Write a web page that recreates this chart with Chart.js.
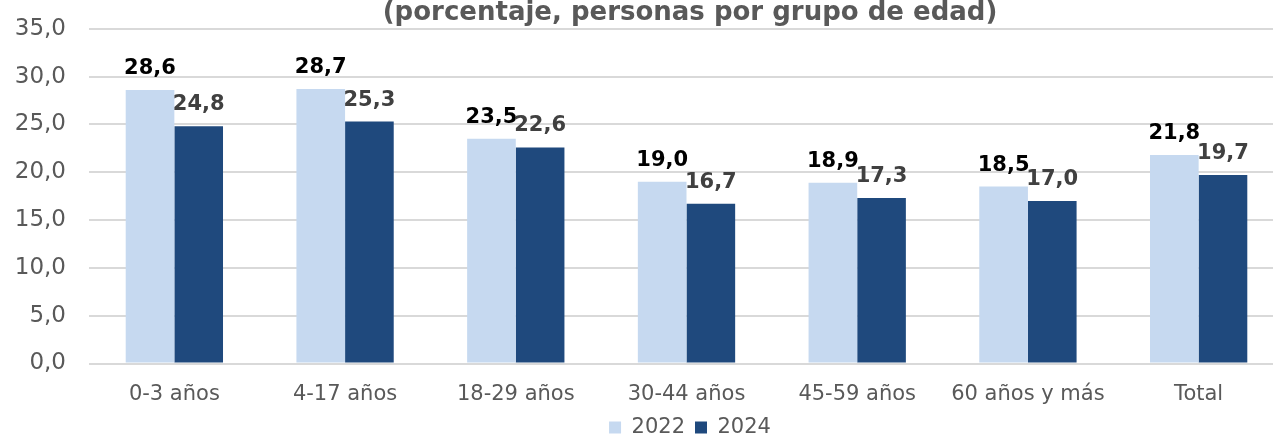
<!DOCTYPE html>
<html>
<head>
<meta charset="utf-8">
<script src="https://cdn.jsdelivr.net/npm/chart.js@4.4.1/dist/chart.umd.min.js"></script>
<style>
  html, body { margin: 0; padding: 0; background: #fff; overflow: hidden; width: 1273px; height: 434px; }
  #wrap { position: absolute; left: 0; top: -8px; width: 1380px; height: 456px; }
</style>
</head>
<body>
<div id="wrap"><canvas id="chart"></canvas></div>
<script>
/* ============================================================
   Riesgo de pobreza por grupo de edad — 2022 vs 2024
   ============================================================ */

var categories = ['0-3 años', '4-17 años', '18-29 años', '30-44 años', '45-59 años', '60 años y más', 'Total'];
var values2022 = [28.6, 28.7, 23.5, 19.0, 18.9, 18.5, 21.8];
var values2024 = [24.8, 25.3, 22.6, 16.7, 17.3, 17.0, 19.7];
var yTicks     = [0, 5, 10, 15, 20, 25, 30, 35];
var titleText  = '(porcentaje, personas por grupo de edad)';

var FONT = "'DejaVu Sans', Verdana, sans-serif";

function fmt(v) { return v.toFixed(1).replace('.', ','); }

// valor encima de cada barra
var barLabels = {
  id: 'barLabels',
  afterDatasetsDraw: function(chart) {
    var ctx = chart.ctx;
    ctx.save();
    ctx.font = 'bold 21px ' + FONT;
    ctx.textAlign = 'center';
    ctx.textBaseline = 'alphabetic';
    chart.data.datasets.forEach(function(ds, di) {
      var meta = chart.getDatasetMeta(di);
      ctx.fillStyle = ds.labelColor;
      meta.data.forEach(function(bar, i) {
        ctx.fillText(fmt(ds.data[i]), bar.x, bar.y - 16);
      });
    });
    ctx.restore();
  }
};

new Chart(document.getElementById('chart').getContext('2d'), {
  type: 'bar',
  data: {
    labels: categories,
    datasets: [
      { label: '2022', data: values2022, backgroundColor: '#C6D9F0', labelColor: '#000000' },
      { label: '2024', data: values2024, backgroundColor: '#1F497D', labelColor: '#404040' }
    ]
  },
  options: {
    responsive: true, maintainAspectRatio: false, animation: false,
    categoryPercentage: 0.57, barPercentage: 1.0,
    layout: { padding: 0 },
    plugins: {
      title: {
        display: true, text: titleText, color: '#595959',
        font: { family: FONT, size: 26, weight: 'bold', lineHeight: 1.1 },
        padding: { top: 1, bottom: 1 }
      },
      legend: {
        position: 'bottom',
        labels: { color: '#595959', font: { family: FONT, size: 21 }, boxWidth: 12, boxHeight: 12, padding: 10 }
      },
      tooltip: { enabled: false }
    },
    scales: {
      x: {
        afterFit: function(s) { s.height = 43.5; },
        grid: { display: false }, border: { display: false },
        ticks: { color: '#595959', font: { family: FONT, size: 21 }, padding: 10 }
      },
      y: {
        min: 0, max: 35,
        afterBuildTicks: function(s) { s.ticks = yTicks.map(function(v) { return { value: v }; }); },
        afterFit: function(s) { s.width = 89; },
        grid: { color: '#D9D9D9', lineWidth: 2, drawTicks: false },
        border: { display: false },
        ticks: { color: '#595959', font: { family: FONT, size: 23 }, padding: 23, callback: function(v) { return fmt(v); } }
      },
      // hueco a la derecha (el gráfico original es más ancho que el recorte)
      yRight: {
        position: 'right', display: true,
        afterFit: function(s) { s.width = 96; },
        grid: { display: false }, border: { display: false }, ticks: { display: false }
      }
    }
  },
  plugins: [barLabels]
});
</script>
</body>
</html>
